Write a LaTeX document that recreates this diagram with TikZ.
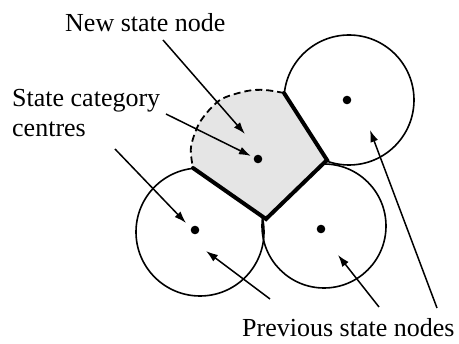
\documentclass[tikz,border=0pt]{standalone}
\usepackage{fontspec}
\setmainfont{Liberation Serif}
\usetikzlibrary{arrows.meta}
\begin{document}
\begin{tikzpicture}[x=1pt,y=-1pt,
  lbl/.style={anchor=base west,inner sep=0pt,font=\fontsize{26}{30}\selectfont},
  ring/.style={draw=black,line width=1.6pt},
  border/.style={draw=black,line width=4pt,line join=miter,line cap=round},
  ptr/.style={draw=black,line width=1.5pt,-{Latex[length=12pt,width=8pt]}},
  dotc/.style={fill=black}]
\useasboundingbox (0,0) rectangle (459,344);
% coordinates
\coordinate (ctr) at (349,100);
\coordinate (cbl) at (200,232);
\coordinate (cbr) at (324,226);
\coordinate (A) at (193,168);
\coordinate (B) at (266,219);
\coordinate (C) at (327,160);
\coordinate (D) at (284,93);
% previous state node circles
\draw[ring] (ctr) circle[radius=65];
\draw[ring] (cbl) circle[radius=64];
\draw[ring] (cbr) circle[radius=62];
% new state node region
\fill[gray!20] (A) -- (B) -- (C) -- (D)
  plot[smooth] coordinates {(284,93) (265,90) (247,91) (220,100) (200,122) (191,147) (193,168)} -- cycle;
\draw[line width=1.8pt,dashed,dash pattern=on 7pt off 4pt]
  plot[smooth] coordinates {(284,93) (265,90) (247,91) (220,100) (200,122) (191,147) (193,168)};
\draw[border] (A) -- (B) -- (C) -- (D);
% dots
\fill[dotc] (258,159) circle[radius=4.3] coordinate (dn);
\fill[dotc] (347,100) circle[radius=4.3] coordinate (dtr);
\fill[dotc] (195,230) circle[radius=4.3] coordinate (dbl);
\fill[dotc] (321,229) circle[radius=4.3] coordinate (dbr);
% labels
\node[lbl] (tnew) at (65,32) {New state node};
\node[lbl] (tcat) at (12,107) {State category};
\node[lbl] (tcen) at (12,137) {centres};
\node[lbl] (tprev) at (242,337) {Previous state nodes};
% arrows
\coordinate (s1) at (163,40);  \coordinate (e1) at (245,134);
\coordinate (s2) at (166,114); \coordinate (e2) at (251,156);
\coordinate (s3) at (115,149); \coordinate (e3) at (186,223);
\coordinate (s4) at (270,299); \coordinate (e4) at (206,251);
\coordinate (s5) at (379,307); \coordinate (e5) at (338,255);
\coordinate (s6) at (437,308); \coordinate (e6) at (370,130);
\draw[ptr] (s1) -- (e1);
\draw[ptr] (s2) -- (e2);
\draw[ptr] (s3) -- (e3);
\draw[ptr] (s4) -- (e4);
\draw[ptr] (s5) -- (e5);
\draw[ptr] (s6) -- (e6);
\end{tikzpicture}
\end{document}
